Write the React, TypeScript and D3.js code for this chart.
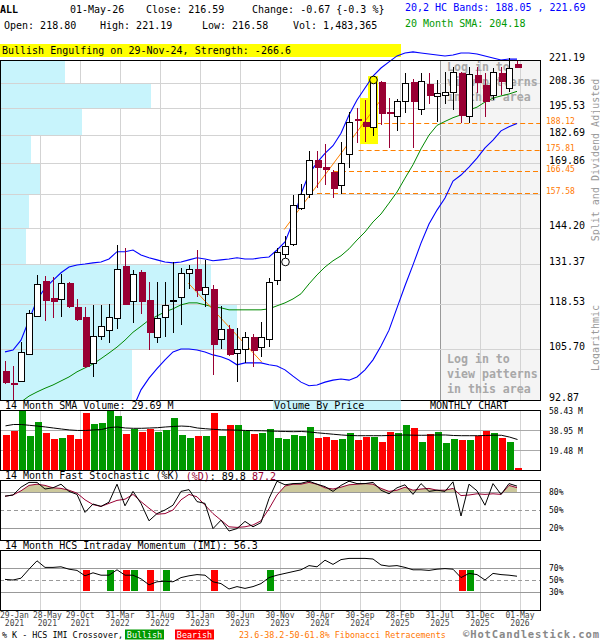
import { useEffect, useRef } from "react";
import * as d3 from "d3";

// Monthly bars, Jan 2021 .. May 2026 (index 0 .. 64)
const opens = [99.9, 97.0, 97.5, 104.4, 115.1, 125.9, 120.5, 120.2, 125.2, 117.8, 114.8, 102.1, 109.3, 111.0, 114.5, 130.8, 119.6, 128.8, 119.9, 109.0, 114.8, 119.6, 120.8, 128.4, 129.7, 121.8, 123.3, 108.5, 111.3, 104.7, 105.8, 109.0, 106.3, 108.5, 126.2, 134.8, 138.3, 151.6, 157.1, 171.4, 168.4, 166.3, 160.8, 174.0, 190.3, 188.9, 186.5, 209.1, 193.7, 191.7, 199.2, 209.1, 195.2, 208.1, 201.9, 202.4, 203.9, 214.0, 191.7, 212.9, 207.6, 202.4, 214.0, 205.9, 218.8];
const highs = [102.5, 101.4, 107.7, 116.9, 127.8, 127.6, 127.2, 128.0, 125.5, 120.2, 117.8, 118.4, 118.4, 118.7, 138.0, 136.9, 129.4, 129.4, 125.5, 125.5, 125.5, 132.1, 130.1, 131.1, 136.2, 132.8, 124.6, 118.1, 112.4, 111.6, 110.5, 109.9, 113.3, 126.8, 136.9, 141.2, 156.6, 161.2, 175.3, 175.3, 178.4, 167.1, 179.4, 193.7, 195.8, 199.7, 211.2, 209.6, 200.7, 200.2, 214.0, 210.7, 214.0, 214.0, 210.2, 214.5, 217.3, 214.5, 217.3, 217.3, 214.0, 216.7, 217.3, 222.3, 221.19];
const lows = [96.8, 92.9, 97.2, 104.4, 115.1, 113.6, 114.5, 114.8, 117.5, 113.6, 100.8, 98.5, 108.2, 107.4, 111.3, 118.4, 113.0, 115.7, 105.5, 107.4, 109.0, 110.2, 112.4, 123.3, 120.8, 117.8, 99.0, 105.8, 103.9, 97.2, 102.1, 101.1, 103.7, 106.3, 124.6, 133.5, 137.6, 150.8, 155.5, 159.5, 160.8, 155.5, 157.1, 167.9, 179.0, 179.4, 182.1, 187.4, 176.7, 184.5, 193.2, 176.7, 192.2, 197.5, 188.9, 197.5, 194.7, 188.4, 188.4, 203.4, 191.2, 199.7, 202.4, 203.9, 216.58];
const closes = [97.0, 96.7, 104.9, 116.0, 124.9, 119.6, 119.3, 125.2, 117.8, 113.9, 101.1, 109.3, 112.1, 114.8, 129.7, 118.4, 128.1, 119.3, 110.2, 114.5, 118.4, 119.9, 128.4, 129.7, 122.7, 124.0, 106.8, 111.3, 104.2, 105.8, 109.0, 105.2, 109.0, 125.5, 135.5, 137.6, 152.7, 157.1, 171.4, 167.9, 167.1, 159.1, 170.1, 188.9, 189.3, 186.5, 209.1, 192.8, 192.8, 199.2, 208.6, 198.7, 209.6, 201.9, 203.4, 203.9, 214.5, 191.7, 213.4, 208.6, 198.7, 214.5, 209.1, 216.7, 216.59];

// volume, millions of shares
const volumes = [34.1, 38.3, 57.7, 33.1, 46.7, 36.3, 30.5, 31.2, 34.1, 30.5, 55.8, 44.8, 45.8, 57.7, 52.6, 35.1, 40.2, 37.0, 40.2, 37.0, 39.2, 50.6, 34.1, 31.2, 33.1, 33.1, 55.8, 33.1, 43.8, 43.8, 38.3, 35.1, 36.0, 39.9, 31.2, 30.2, 34.1, 33.1, 41.9, 31.2, 32.1, 29.2, 30.2, 36.0, 29.2, 32.4, 32.4, 27.3, 37.0, 36.0, 43.8, 40.9, 27.3, 35.1, 37.0, 26.3, 30.2, 29.2, 29.2, 32.8, 38.3, 36.0, 31.2, 27.3, 1.48];
const volumeSma = [43.0, 44.3, 44.3, 43.5, 42.8, 41.9, 40.9, 39.9, 39.0, 38.5, 38.5, 39.0, 39.4, 41.4, 41.9, 40.9, 40.6, 40.6, 40.9, 41.2, 41.9, 42.4, 42.8, 42.4, 40.9, 40.2, 39.6, 39.2, 39.0, 38.8, 38.5, 38.3, 38.2, 38.0, 37.7, 37.5, 37.3, 37.5, 37.0, 36.2, 35.5, 34.8, 34.1, 33.6, 33.4, 33.4, 33.4, 33.4, 33.6, 33.9, 34.1, 33.9, 33.8, 33.9, 34.1, 34.1, 33.6, 33.4, 33.4, 33.4, 33.6, 33.9, 33.8, 32.1, 29.69];

// 20,2 HC bands and 20 month SMA
const bandUpper = [105.0, 105.5, 108.2, 113.9, 119.9, 123.6, 126.0, 128.5, 130.4, 131.1, 131.4, 131.8, 132.1, 133.1, 135.6, 135.6, 136.2, 134.5, 133.5, 132.8, 132.1, 131.8, 132.1, 132.8, 133.5, 133.1, 132.5, 132.8, 133.1, 133.5, 133.1, 133.1, 133.5, 133.8, 136.2, 139.0, 146.3, 157.1, 165.4, 170.2, 174.3, 177.7, 183.5, 192.2, 199.7, 205.9, 212.3, 216.7, 220.1, 223.5, 225.2, 225.8, 225.2, 224.6, 224.0, 223.5, 224.0, 225.2, 225.2, 224.6, 223.5, 222.3, 221.2, 221.75, 221.69];
const bandLower: (number | null)[] = [null, null, null, null, null, null, null, null, null, null, null, null, null, null, null, null, 91.0, 95.3, 98.2, 100.6, 102.9, 105.0, 105.8, 105.8, 105.5, 105.0, 104.2, 103.7, 102.9, 101.6, 102.1, 102.1, 102.1, 101.6, 101.3, 100.3, 98.7, 97.2, 96.3, 96.5, 97.2, 97.7, 98.0, 97.7, 98.5, 100.3, 102.9, 106.6, 111.0, 117.5, 124.3, 131.1, 138.6, 145.5, 150.8, 155.5, 162.4, 164.9, 168.3, 172.2, 176.7, 180.3, 184.6, 186.5, 188.05];
const sma20: (number | null)[] = [null, null, 92.4, 93.8, 94.8, 95.7, 96.5, 97.5, 98.5, 99.8, 100.8, 101.8, 103.2, 104.7, 106.3, 108.2, 110.4, 112.1, 113.9, 115.1, 116.3, 117.2, 118.4, 119.0, 119.0, 118.4, 117.8, 117.5, 116.9, 116.9, 116.9, 116.9, 116.9, 117.2, 118.1, 119.0, 120.2, 121.8, 124.9, 127.8, 130.4, 132.5, 134.2, 136.6, 139.7, 142.6, 146.3, 149.3, 153.5, 157.9, 163.6, 169.3, 176.3, 182.6, 187.2, 189.1, 190.9, 192.3, 194.7, 196.1, 198.7, 200.7, 201.8, 202.8, 204.18];

// 14 month fast stochastic and IMI, percent
const stochK = [73, 75, 88, 96, 96, 85, 87, 93, 81, 76, 46, 60, 56, 63, 93, 57, 81, 61, 32, 44, 50, 58, 81, 84, 64, 61, 19, 33, 15, 19, 31, 22, 29, 69, 98, 92, 94, 94.5, 98, 93, 89, 81, 91, 98, 94, 94, 96, 83, 77, 87, 92, 76, 94, 81, 83, 81, 97, 40, 93, 82, 58, 94, 76, 94, 89.8];
const stochD = [73, 75, 82, 91, 93, 91, 87, 86, 83, 78, 67, 59, 56, 61, 66, 68, 76, 64, 53, 43, 44, 50, 67, 76, 72, 58, 44, 33, 22, 21, 22, 25, 32, 52, 75, 90, 93, 93, 96, 93, 87, 85, 88, 92, 93, 94, 93, 86, 81, 83, 88, 83, 85, 86, 83, 83, 86, 74, 75, 77, 76, 77, 76, 91, 87.2];
const imi = [51, 50, 53, 68, 82, 71, 71, 72, 68, 66, 57, 62, 58, 58, 67, 58, 58, 52, 42, 47, 48, 47, 54, 57, 59, 58, 47, 44, 35, 39, 36, 39, 44, 54, 58, 61, 64, 67, 74, 72, 83, 76, 84, 86, 86, 86, 85, 75, 73, 74, 71, 67, 67, 66, 68, 69, 68, 54, 61, 59, 50, 61, 59, 58, 56.3];
const imiBullish = [13, 16, 20, 33, 58];
const imiBearish = [10, 15, 18, 26, 57];

// axes
const priceTicks = [221.19, 208.36, 195.53, 182.69, 169.86, 157.03, 144.2, 131.37, 118.53, 105.7, 92.87];
const volumeTicks = [19.48, 38.95, 58.43];
const stochTicks = [80, 50, 20];
const imiTicks = [70, 50, 30];
const tickMonths = [0, 4, 9, 14, 19, 24, 29, 34, 39, 44, 49, 54, 59, 64];
const tickLabels = [
  ["29-Jan", "2021"], ["28-May", "2021"], ["29-Oct", "2021"], ["31-Mar", "2022"],
  ["31-Aug", "2022"], ["31-Jan", "2023"], ["30-Jun", "2023"], ["30-Nov", "2023"],
  ["30-Apr", "2024"], ["30-Sep", "2024"], ["28-Feb", "2025"], ["31-Jul", "2025"],
  ["31-Dec", "2025"], ["01-May", "2026"],
];

// volume by price, one value per price band (top to bottom), millions
const vbpVolume = [78, 181, 98, 37, 48, 35, 31, 253, 284, 158];

// fibonacci retracements and pattern marks
const fibLevels = [188.12, 175.81, 166.45, 157.58];
const fibStart = [46.4, 44.2, 41, 39];
const patternBars = [45, 46];
const trendLines = [
  { k0: 34.9, p0: 143.5, k1: 46.9, p1: 199.3 },
  { k0: 22.9, p0: 125.2, k1: 32.1, p1: 102.3 },
];
const markers = [
  { k: 35, price: 132.1, fill: "#ffffff" },
  { k: 46, price: 210.2, fill: "#ffff00" },
];
const hiddenZoneStart = 54;

const FONT = "'DejaVu Sans Mono', monospace";
const RED_CANDLE = "#990033";
const GRID = "#d3d3d3";

type Sel = d3.Selection<SVGGElement, unknown, null, undefined>;

function label(
  g: Sel,
  px: number,
  py: number,
  s: string,
  size = 10,
  fill = "#000",
  weight = "normal",
  anchor = "start"
) {
  return g
    .append("text")
    .attr("x", px)
    .attr("y", py)
    .attr("dominant-baseline", "central")
    .attr("text-anchor", anchor)
    .style("font-family", FONT)
    .style("font-size", `${size}px`)
    .style("font-weight", weight)
    .style("fill", fill)
    .text(s);
}

export default function App() {
  const svgRef = useRef<SVGSVGElement>(null);

  useEffect(() => {
    if (!svgRef.current) return;
    const svg = d3.select(svgRef.current);
    svg.selectAll("*").remove();

    const n = closes.length;
    const right = 540;
    const x = d3.scaleLinear().domain([0, n - 1]).range([5, 517]);
    const gx = (k: number) => x(k) + 3.5;
    const y = d3
      .scaleLog()
      .domain([priceTicks[priceTicks.length - 1], priceTicks[0]])
      .range([400, 60]);
    const yVol = d3.scaleLinear().domain([0, volumeTicks[2]]).range([470, 410]);
    const yStoch = d3.scaleLinear().domain([0, 100]).range([540, 480]);
    const yImi = d3.scaleLinear().domain([0, 100]).range([610, 550]);

    const g = svg.append("g") as Sel;

    const defs = svg.append("defs");
    defs.append("clipPath").attr("id", "mainClip")
      .append("rect").attr("x", 0).attr("y", 40).attr("width", right).attr("height", 360);
    defs.append("clipPath").attr("id", "obClip")
      .append("rect").attr("x", 0).attr("y", 480).attr("width", right).attr("height", yStoch(80) - 480);

    const vGrid = (top: number, bottom: number, dark?: number) => {
      tickMonths.slice(1).forEach((k) => {
        g.append("line")
          .attr("x1", gx(k)).attr("x2", gx(k))
          .attr("y1", top).attr("y2", bottom)
          .style("stroke", k === dark ? "#999" : GRID)
          .style("shape-rendering", "crispEdges");
      });
    };
    const hLine = (yy: number, color: string, dash?: string) => {
      g.append("line")
        .attr("x1", 0).attr("x2", right)
        .attr("y1", Math.round(yy) + 0.5).attr("y2", Math.round(yy) + 0.5)
        .style("stroke", color)
        .style("stroke-dasharray", dash ?? null)
        .style("shape-rendering", "crispEdges");
    };
    const frame = (top: number, bottom: number) => {
      g.append("rect")
        .attr("x", 0.5).attr("y", top + 0.5)
        .attr("width", right).attr("height", bottom - top)
        .style("fill", "none").style("stroke", "#000")
        .style("shape-rendering", "crispEdges");
    };

    // ---------- header ----------
    label(g, 0, 9, "ALL", 10, "#000", "bold");
    label(g, 70, 9, "01-May-26");
    label(g, 146, 9, "Close: 216.59");
    label(g, 252, 9, "Change: -0.67 {-0.3 %}");
    label(g, 405, 7, "20,2 HC Bands: 188.05 , 221.69", 10, "#0000ff");
    label(g, 4, 25, "Open: 218.80");
    label(g, 100, 25, "High: 221.19");
    label(g, 202, 25, "Low: 216.58");
    label(g, 293, 25, "Vol: 1,483,365");
    label(g, 405, 23, "20 Month SMA: 204.18", 10, "#009900");

    g.append("rect").attr("x", 0).attr("y", 44).attr("width", 401).attr("height", 13)
      .style("fill", "#ffff00");
    label(g, 2, 50.5, "Bullish Engulfing on 29-Nov-24, Strength: -266.6");

    // ---------- main price panel ----------
    g.append("rect")
      .attr("x", gx(hiddenZoneStart) - 0.5).attr("y", 60)
      .attr("width", right - gx(hiddenZoneStart) + 0.5).attr("height", 340)
      .style("fill", "#f4f4f4");
    vGrid(60, 400, hiddenZoneStart);

    const vbpX = d3.scaleLinear().domain([0, d3.max(vbpVolume) as number]).range([0, 237]);
    vbpVolume.forEach((v, i) => {
      const y0 = Math.round(y(priceTicks[i]));
      const y1 = Math.round(y(priceTicks[i + 1]));
      g.append("rect")
        .attr("x", 0).attr("y", y0)
        .attr("width", Math.round(vbpX(v))).attr("height", y1 - y0)
        .style("fill", "#c8f4fc");
    });
    priceTicks.slice(1, -1).forEach((t) => hLine(y(t), GRID));

    [[67, 82, 97], [359, 374, 389]].forEach((rows) => {
      ["Log in to", "view patterns", "in this area"].forEach((s, i) =>
        label(g, 447, rows[i], s, 11.6, "#a8a8a8", "bold")
      );
    });

    fibLevels.forEach((lv, i) => {
      g.append("line")
        .attr("x1", x(fibStart[i])).attr("x2", right)
        .attr("y1", Math.round(y(lv)) + 0.5).attr("y2", Math.round(y(lv)) + 0.5)
        .style("stroke", "#ff8000")
        .style("stroke-dasharray", "5,3");
      label(g, 546, y(lv) - 1.5, lv.toFixed(2), 8, "#ff7700");
    });

    const hlBottom = (d3.max(patternBars, (k) => y(lows[k])) as number) + 2;
    patternBars.forEach((k) => {
      g.append("rect")
        .attr("x", x(k) - 5).attr("y", y(highs[k]) - 2)
        .attr("width", 10).attr("height", hlBottom - y(highs[k]) + 2)
        .style("fill", "#ffff00");
    });

    const priceLine = d3
      .line<number | null>()
      .defined((v) => v != null)
      .x((_, i) => x(i))
      .y((v) => y(v as number));
    const lines = g.append("g").attr("clip-path", "url(#mainClip)");
    lines.append("path").attr("d", priceLine(sma20))
      .style("fill", "none").style("stroke", "#008800").style("stroke-width", 1);
    lines.append("path").attr("d", priceLine(bandLower))
      .style("fill", "none").style("stroke", "#0000ff").style("stroke-width", 1.1);
    lines.append("path").attr("d", priceLine(bandUpper))
      .style("fill", "none").style("stroke", "#0000ff").style("stroke-width", 1.1);

    trendLines.forEach((t) => {
      g.append("line")
        .attr("x1", x(t.k0)).attr("y1", y(t.p0))
        .attr("x2", x(t.k1)).attr("y2", y(t.p1))
        .style("stroke", "#ff8000").style("stroke-width", 1);
    });

    // candles
    closes.forEach((c, k) => {
      const o = opens[k];
      const up = c >= o;
      const cx = x(k);
      g.append("line")
        .attr("x1", cx + 0.5).attr("x2", cx + 0.5)
        .attr("y1", y(highs[k])).attr("y2", y(lows[k]))
        .style("stroke", up ? "#000" : RED_CANDLE)
        .style("shape-rendering", "crispEdges");
      const top = y(Math.max(o, c));
      const h = Math.max(1, y(Math.min(o, c)) - top);
      if (up) {
        g.append("rect")
          .attr("x", cx - 2.5).attr("y", Math.round(top) + 0.5)
          .attr("width", 6).attr("height", Math.max(1, Math.round(h)))
          .style("fill", "#fff").style("stroke", "#000")
          .style("shape-rendering", "crispEdges");
      } else {
        g.append("rect")
          .attr("x", cx - 2.5).attr("y", Math.round(top))
          .attr("width", 7).attr("height", Math.max(2, Math.round(h)))
          .style("fill", RED_CANDLE)
          .style("shape-rendering", "crispEdges");
      }
    });

    markers.forEach((m) => {
      g.append("circle")
        .attr("cx", x(m.k) + 0.5).attr("cy", y(m.price)).attr("r", 3.8)
        .style("fill", m.fill).style("stroke", "#000");
    });

    frame(60, 400);

    priceTicks.forEach((t) => {
      const near = fibLevels.some((f) => Math.abs(y(f) - y(t)) < 5);
      if (near) return;
      label(g, 549, y(t) - 2.5, t.toFixed(2), 10);
    });

    g.append("text")
      .attr("transform", "translate(595,160) rotate(-90)")
      .attr("text-anchor", "middle").attr("dominant-baseline", "central")
      .style("font-family", FONT).style("font-size", "10px").style("fill", "#999")
      .text("Split and Dividend Adjusted");
    g.append("text")
      .attr("transform", "translate(595,338) rotate(-90)")
      .attr("text-anchor", "middle").attr("dominant-baseline", "central")
      .style("font-family", FONT).style("font-size", "10px").style("fill", "#999")
      .text("Logarithmic");

    // strip between panels
    label(g, 5, 405.5, "14 Month SMA Volume: 29.69 M");
    g.append("rect").attr("x", 273).attr("y", 400.5).attr("width", 128).attr("height", 9.5)
      .style("fill", "#c8f4fc");
    label(g, 274, 405.5, "Volume By Price");
    label(g, 430, 405.5, "MONTHLY CHART");

    // ---------- volume panel ----------
    vGrid(410, 470);
    volumeTicks.slice(0, 2).forEach((t) => hLine(yVol(t), "#aaa"));
    volumes.forEach((v, k) => {
      g.append("rect")
        .attr("x", x(k) - 2.5).attr("y", Math.round(yVol(v)))
        .attr("width", 7).attr("height", 470 - Math.round(yVol(v)))
        .style("fill", closes[k] >= opens[k] ? "#009900" : "#ff0000")
        .style("shape-rendering", "crispEdges");
    });
    g.append("path")
      .attr("d", d3.line<number>().x((_, i) => x(i) + 0.5).y((v) => yVol(v))(volumeSma))
      .style("fill", "none").style("stroke", "#000").style("stroke-width", 1);
    frame(410, 470);
    volumeTicks.forEach((t) => label(g, 549, yVol(t) + 1.5, `${t.toFixed(2)} M`, 8));

    // ---------- stochastic panel ----------
    const stochText = label(g, 5, 475.5, "14 Month Fast Stochastic (%K) ");
    stochText.append("tspan").style("fill", RED_CANDLE).text("(%D)");
    stochText.append("tspan").style("fill", "#000").text(`: ${stochK[n - 1].toFixed(1)}  `);
    stochText.append("tspan").style("fill", RED_CANDLE).text(stochD[n - 1].toFixed(1));

    vGrid(480, 540);
    stochTicks.forEach((t) => hLine(yStoch(t), "#999", t === 50 ? "4,3" : undefined));
    g.append("path")
      .attr("clip-path", "url(#obClip)")
      .attr("d", d3.area<number>().x((_, i) => x(i)).y0(yStoch(80)).y1((v) => yStoch(v))(stochD))
      .style("fill", "#ccc89c");
    g.append("path")
      .attr("d", d3.line<number>().x((_, i) => x(i)).y((v) => yStoch(v))(stochD))
      .style("fill", "none").style("stroke", RED_CANDLE).style("stroke-width", 1);
    g.append("path")
      .attr("d", d3.line<number>().x((_, i) => x(i)).y((v) => yStoch(v))(stochK))
      .style("fill", "none").style("stroke", "#000").style("stroke-width", 1);
    frame(480, 540);
    stochTicks.forEach((t) => label(g, 549, yStoch(t), `${t}%`, 8));

    // ---------- IMI panel ----------
    label(g, 5, 545.5, `14 Month HCS Intraday Momentum (IMI): ${imi[n - 1].toFixed(1)}`);
    vGrid(550, 610);
    imiTicks.forEach((t) => hLine(yImi(t), "#999", t === 50 ? "4,3" : undefined));
    const cross = (ks: number[], color: string) =>
      ks.forEach((k) => {
        g.append("rect")
          .attr("x", x(k) - 2.5).attr("y", Math.round(yImi(67)))
          .attr("width", 7).attr("height", Math.round(yImi(32) - yImi(67)))
          .style("fill", color).style("shape-rendering", "crispEdges");
      });
    cross(imiBullish, "#009900");
    cross(imiBearish, "#ff0000");
    g.append("path")
      .attr("d", d3.line<number>().x((_, i) => x(i)).y((v) => yImi(v))(imi))
      .style("fill", "none").style("stroke", "#000").style("stroke-width", 1);
    frame(550, 610);
    imiTicks.forEach((t) => label(g, 549, yImi(t), `${t}%`, 8));

    // ---------- x axis labels ----------
    let prevRight = -Infinity;
    tickMonths.forEach((k, i) => {
      const [d, yr] = tickLabels[i];
      const w = d.length * 8 * 0.602;
      const left = Math.max(gx(k) - 0.5 - w / 2, prevRight + 4, 0);
      const cx = left + w / 2;
      label(g, cx, 615.5, d, 8, "#444", "normal", "middle");
      label(g, cx, 623.2, yr, 8, "#444", "normal", "middle");
      prevRight = left + w;
    });

    // ---------- legend ----------
    label(g, 2, 634.5, "% K - HCS IMI Crossover,", 8.4);
    g.append("rect").attr("x", 125).attr("y", 629.5).attr("width", 39).attr("height", 10)
      .style("fill", "#009900");
    label(g, 144.5, 634.5, "Bullish", 8.4, "#fff", "normal", "middle");
    g.append("rect").attr("x", 175).attr("y", 629.5).attr("width", 39).attr("height", 10)
      .style("fill", "#ff0000");
    label(g, 194.5, 634.5, "Bearish", 8.4, "#fff", "normal", "middle");
    label(g, 239, 634.5, "23.6-38.2-50-61.8% Fibonacci Retracements", 8.4, "#ff7700");
    label(g, 463, 633.8, "\u00a9HotCandlestick.com", 10.5, "#888", "bold")
      .attr("textLength", 136);
  }, []);

  return (
    <div style={{ position: "absolute", left: 0, top: 0, background: "#fff" }}>
      <svg ref={svgRef} width={600} height={640} style={{ display: "block" }} />
    </div>
  );
}
